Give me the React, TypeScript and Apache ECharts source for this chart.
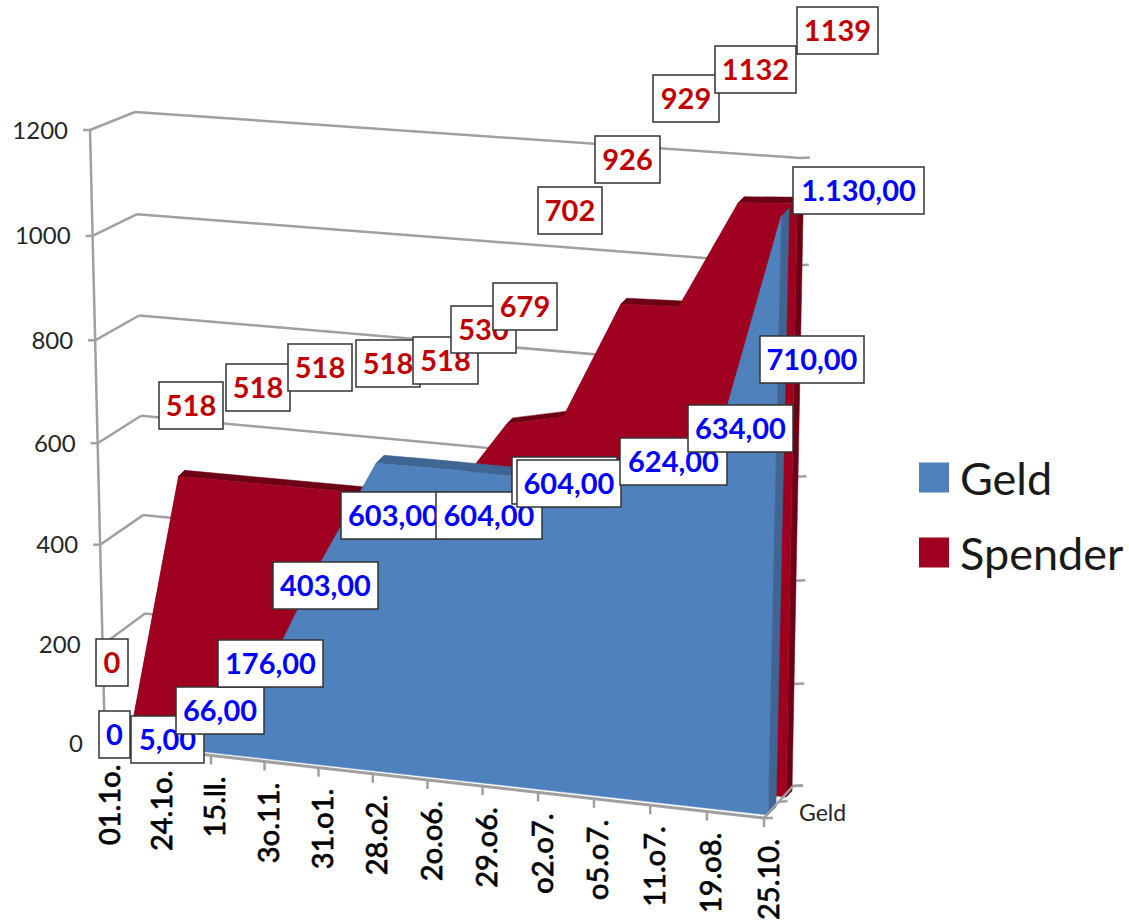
import React, { useEffect, useRef } from "react";
import * as echarts from "echarts";

const CATEGORIES = ["01.1o.", "24.1o.", "15.ll.", "3o.11.", "31.o1.", "28.o2.", "2o.o6.", "29.o6.", "o2.o7.", "o5.o7.", "11.o7.", "19.o8.", "25.10."];
const Y_TICKS = [0, 200, 400, 600, 800, 1000, 1200];
const GELD = [0, 5, 66, 176, 403, 603, 604, 604, 604, 624, 634, 710, 1130];
const SPENDER = [0, 518, 518, 518, 518, 518, 530, 679, 702, 926, 929, 1132, 1139];
const SERIES_AXIS_LABEL = "Geld";

// Layout of the perspective planes: screen corners for (first,0) (last,0) (last,max) (first,max)
type P = number[];
const FRONT_AXIS: P[] = [[105, 743.5], [764, 818], [778, 180], [90, 130]];
const BACK_WALL: P[] = [[147, 711], [793, 786], [800, 158], [135, 112]];
const GELD_PLANE: P[] = [[108, 741], [768, 815], [782, 178], [95, 124]];
const SPENDER_PLANE: P[] = [[132, 726], [786, 797], [798, 170], [116, 122]];
const GELD_DEPTH = [8, -8];
const SPENDER_DEPTH = [6, -6];

// Hand-placed data label boxes: [left, top, width]
const GELD_BOXES = [[99, 711, 31], [131, 716, 73], [176, 687, 88], [218, 640, 105], [273, 562, 105], [341, 492, 105], [436, 492, 106], [512, 457, 105], [517, 460, 104], [620, 438, 107], [688, 405, 105], [760, 336, 104], [793, 167, 131]];
const SPENDER_BOXES = [[96, 639, 32], [159, 382, 64], [226, 364, 64], [288, 344, 64], [356, 340, 64], [413, 337, 65], [451, 306, 65], [493, 283, 64], [538, 187, 64], [595, 136, 65], [653, 75, 66], [715, 46, 81], [797, 7, 81]];
const BOX_HEIGHT = 47;

const FONT = "Lato";
const GRAY = "#a0a0a0";
const TEXT = "#262626";
const BLUE = "#4f81bd";
const BLUE_DARK = "#3f6592";
const RED = "#a00020";
const RED_DARK = "#6c0015";
const LABEL_BLUE = "#0000ff";
const LABEL_RED = "#c00000";

function makeHomography(q: P[]) {
  const [[x0, y0], [x1, y1], [x2, y2], [x3, y3]] = q;
  const dx1 = x1 - x2, dx2 = x3 - x2, sx = x0 - x1 + x2 - x3;
  const dy1 = y1 - y2, dy2 = y3 - y2, sy = y0 - y1 + y2 - y3;
  const den = dx1 * dy2 - dx2 * dy1;
  const g = (sx * dy2 - dx2 * sy) / den;
  const h = (dx1 * sy - sx * dy1) / den;
  const a = x1 - x0 + g * x1, b = x3 - x0 + h * x3, c = x0;
  const d = y1 - y0 + g * y1, e = y3 - y0 + h * y3, f = y0;
  return (u: number, t: number): P => {
    const w = g * u + h * t + 1;
    return [(a * u + b * t + c) / w, (d * u + e * t + f) / w];
  };
}
const shift = (q: P[], o: number[]) => q.map((p) => [p[0] + o[0], p[1] + o[1]]);

const homFront = makeHomography(FRONT_AXIS);
const homBack = makeHomography(BACK_WALL);
const LAST = CATEGORIES.length - 1;
const MAX = Y_TICKS[Y_TICKS.length - 1];

// Goes from the data through the library's scales to the unit square, then to a plane
function projector(api: any) {
  const o = api.coord([0, 0]);
  const m = api.coord([LAST, MAX]);
  return (i: number, v: number, hom: (u: number, t: number) => P): P => {
    const c = api.coord([i, v]);
    return hom((c[0] - o[0]) / (m[0] - o[0]), (c[1] - o[1]) / (m[1] - o[1]));
  };
}
const line = (a: P, b: P, w = 2.5, color = GRAY) => ({
  type: "line",
  shape: { x1: a[0], y1: a[1], x2: b[0], y2: b[1] },
  style: { stroke: color, lineWidth: w },
});
const poly = (points: P[], fill: string) => ({
  type: "polygon",
  shape: { points },
  style: { fill, stroke: fill, lineWidth: 0.5 },
});

function areaRenderer(values: number[], plane: P[], depth: number[], fill: string, dark: string) {
  const homF = makeHomography(plane);
  const homB = makeHomography(shift(plane, depth));
  return (params: any, api: any) => {
    if (params.dataIndex !== 0) return null;
    const pr = projector(api);
    const children: any[] = [];
    for (let i = 0; i < values.length - 1; i++) {
      children.push(poly([pr(i, values[i], homF), pr(i + 1, values[i + 1], homF), pr(i + 1, values[i + 1], homB), pr(i, values[i], homB)], dark));
    }
    const e = values.length - 1;
    children.push(poly([pr(e, values[e], homF), pr(e, values[e], homB), pr(e, 0, homB), pr(e, 0, homF)], dark));
    const front = values.map((v, i) => pr(i, v, homF));
    front.push(pr(e, 0, homF), pr(0, 0, homF));
    children.push(poly(front, fill));
    return { type: "group", children };
  };
}

function labelRenderer(texts: string[], boxes: number[][], color: string) {
  return (params: any) => {
    const i = params.dataIndex;
    const [x, y, w] = boxes[i];
    return {
      type: "group",
      children: [
        { type: "rect", shape: { x, y, width: w, height: BOX_HEIGHT }, style: { fill: "#fff", stroke: "#333", lineWidth: 1.5 } },
        {
          type: "text",
          style: { text: texts[i], x: x + w / 2, y: y + BOX_HEIGHT / 2 - 1, fill: color, font: `bold 29px ${FONT}`, align: "center", verticalAlign: "middle" },
        },
      ],
    };
  };
}

const fmtGeld = (v: number) => {
  if (v === 0) return "0";
  const s = Math.floor(v).toString().replace(/\B(?=(\d{3})+$)/g, ".");
  return s + ",00";
};

export default function App() {
  const ref = useRef<HTMLDivElement>(null);
  useEffect(() => {
    document.body.style.margin = "0";
    const chart = echarts.init(ref.current!, undefined, { renderer: "svg" });
    const base = { type: "custom", silent: true, clip: false, coordinateSystem: "cartesian2d", encode: { x: 0, y: 1 } };
    chart.setOption({
      animation: false,
      backgroundColor: "#fff",
      grid: { left: 100, right: 100, top: 100, bottom: 100 },
      xAxis: { type: "category", data: CATEGORIES, boundaryGap: false, show: false },
      yAxis: { type: "value", min: 0, max: MAX, interval: 200, show: false },
      legend: {
        data: ["Geld", "Spender"],
        orient: "vertical",
        left: 914,
        top: 450,
        itemWidth: 30,
        itemHeight: 30,
        itemGap: 30,
        icon: "rect",
        selectedMode: false,
        textStyle: { fontFamily: FONT, fontSize: 45, color: "#1a1a1a", padding: [0, 0, 0, 6] },
      },
      series: [
        {
          ...base,
          name: "walls",
          z: 1,
          data: Y_TICKS.map((v) => [0, v]),
          renderItem: (params: any, api: any) => {
            const pr = projector(api);
            const v = Y_TICKS[params.dataIndex];
            const a = pr(0, v, homFront);
            const b = pr(0, v, homBack);
            const c = pr(LAST, v, homBack);
            const children: any[] = [
              line(a, b),
              line(b, c),
              line(c, [c[0] + 10, c[1] - 0.5]),
              line(a, [a[0] - 7, a[1]]),
              { type: "text", style: { text: String(v), x: a[0] - 22, y: a[1] - 1, fill: TEXT, font: `24px ${FONT}`, align: "right", verticalAlign: "middle" } },
            ];
            if (params.dataIndex === 0) children.push(line(a, pr(0, MAX, homFront)));
            return { type: "group", children };
          },
        },
        {
          ...base,
          name: "Spender",
          z: 2,
          itemStyle: { color: RED },
          data: SPENDER.map((v, i) => [i, v]),
          renderItem: areaRenderer(SPENDER, SPENDER_PLANE, SPENDER_DEPTH, RED, RED_DARK),
        },
        {
          ...base,
          name: "Geld",
          z: 3,
          itemStyle: { color: BLUE },
          data: GELD.map((v, i) => [i, v]),
          renderItem: areaRenderer(GELD, GELD_PLANE, GELD_DEPTH, BLUE, BLUE_DARK),
        },
        {
          ...base,
          name: "categoryAxis",
          z: 4,
          data: CATEGORIES.map((_, i) => [i, 0]),
          renderItem: (params: any, api: any) => {
            const pr = projector(api);
            const i = params.dataIndex;
            const a = pr(i, 0, homFront);
            const children: any[] = [
              line(a, [a[0], a[1] + 9]),
              {
                type: "text",
                x: a[0] + 3,
                y: a[1] + 21,
                rotation: Math.PI / 2,
                style: { text: CATEGORIES[i], fill: "#000", stroke: "#000", lineWidth: 0.7, font: `29px ${FONT}`, align: "right", verticalAlign: "middle" },
              },
            ];
            if (i === 0) children.push(line(a, pr(LAST, 0, homFront), 3));
            if (i === LAST) {
              const back = pr(LAST, 0, homBack);
              const mid = [(a[0] + back[0]) / 2, (a[1] + back[1]) / 2];
              children.push(
                line(a, back),
                line(a, [a[0] + 9, a[1]]),
                line(mid, [mid[0] + 9, mid[1] - 1]),
                line(back, [back[0] + 10, back[1] - 0.5]),
                { type: "text", style: { text: SERIES_AXIS_LABEL, x: back[0] + 6, y: back[1] + 26, fill: TEXT, font: `23px ${FONT}`, align: "left", verticalAlign: "middle" } }
              );
            }
            return { type: "group", children };
          },
        },
        {
          ...base,
          name: "spenderLabels",
          z: 5,
          data: SPENDER.map((v, i) => [i, v]),
          renderItem: labelRenderer(SPENDER.map(String), SPENDER_BOXES, LABEL_RED),
        },
        {
          ...base,
          name: "geldLabels",
          z: 6,
          data: GELD.map((v, i) => [i, v]),
          renderItem: labelRenderer(GELD.map(fmtGeld), GELD_BOXES, LABEL_BLUE),
        },
      ],
    });
    return () => chart.dispose();
  }, []);
  return <div ref={ref} style={{ position: "fixed", left: 0, top: 0, width: 1129, height: 924 }} />;
}
